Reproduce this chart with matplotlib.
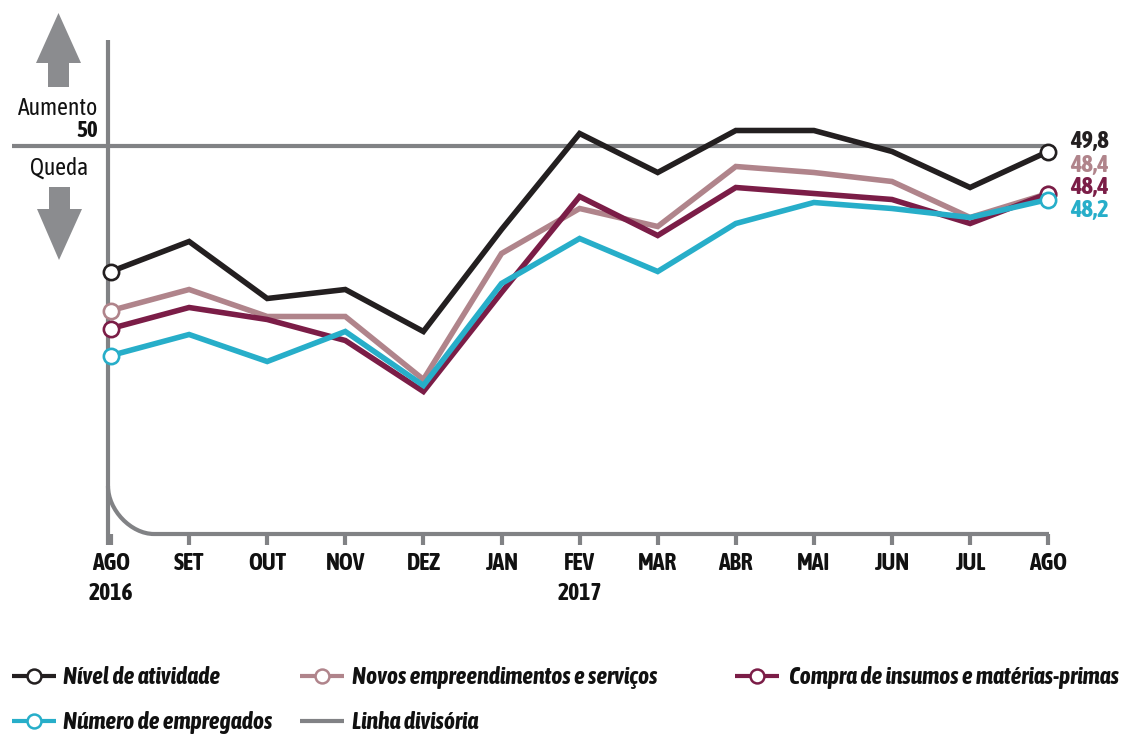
import matplotlib
matplotlib.use("Agg")
import matplotlib.pyplot as plt
from matplotlib.path import Path
from matplotlib.patches import PathPatch, Polygon

plt.rcParams['font.family'] = ['Asap Condensed', 'DejaVu Sans']

# ---------------- data ----------------
months = ['AGO', 'SET', 'OUT', 'NOV', 'DEZ', 'JAN', 'FEV', 'MAR', 'ABR', 'MAI', 'JUN', 'JUL', 'AGO']
year_labels = {0: '2016', 6: '2017'}
nivel = [45.8, 46.8, 44.9, 45.2, 43.8, 47.2, 50.4, 49.1, 50.5, 50.5, 49.8, 48.6, 49.8]
novos = [44.5, 45.2, 44.3, 44.3, 42.2, 46.4, 47.9, 47.3, 49.3, 49.1, 48.8, 47.6, 48.4]
compra = [43.9, 44.6, 44.2, 43.5, 41.8, 45.1, 48.3, 47.0, 48.6, 48.4, 48.2, 47.4, 48.4]
empregados = [43.0, 43.7, 42.8, 43.8, 42.0, 45.4, 46.9, 45.8, 47.4, 48.1, 47.9, 47.6, 48.2]
divisor = 50
last_labels = ['49,8', '48,4', '48,4', '48,2']
series_names = ['Nível de atividade', 'Novos empreendimentos e serviços',
                'Compra de insumos e matérias-primas', 'Número de empregados', 'Linha divisória']

# ---------------- styles ----------------
C_BLACK = '#231f20'
C_PINK = '#b0848b'
C_MAROON = '#7b1d47'
C_CYAN = '#27aec9'
C_GRAY = '#818285'
C_ARROW = '#8b8c8f'
C_TEXT = '#111111'

W, H = 1125, 734
fig = plt.figure(figsize=(W / 100, H / 100), dpi=100)
ax = fig.add_axes([0, 0, 1, 1])
ax.axis('off')

X0, DX, Y50, DY = 111, 78.1, 145.5, 30.0
ax.set_xlim((0 - X0) / DX, (W - X0) / DX)
ax.set_ylim(50 - (H - Y50) / DY, 50 + Y50 / DY)


def px(x, y):
    return ((x - X0) / DX, 50 - (y - Y50) / DY)


idx = list(range(len(months)))

# vertical axis line
ax.plot([px(108, 0)[0]] * 2, [px(0, 40)[1], px(0, 545)[1]], color=C_GRAY, lw=3.0,
        solid_capstyle='butt', zorder=1)
# curved break + baseline
k = 0.5
verts = [px(108, 486), px(108, 486 + k * 48), px(154 - k * 46, 534), px(154, 534), px(1049, 534)]
codes = [Path.MOVETO, Path.CURVE4, Path.CURVE4, Path.CURVE4, Path.LINETO]
ax.add_patch(PathPatch(Path(verts, codes), fill=False, edgecolor=C_GRAY, lw=3.0, zorder=1))
# ticks
for i in idx:
    ax.plot([i, i], [px(0, 534)[1], px(0, 545)[1]], color=C_GRAY, lw=3.0,
            solid_capstyle='butt', zorder=1)
    ax.text(i, px(0, 570)[1], months[i], ha='center', va='baseline',
            fontsize=17, fontweight='bold', color=C_TEXT)
for i, yl in year_labels.items():
    ax.text(i, px(0, 600)[1], yl, ha='center', va='baseline',
            fontsize=17, fontweight='bold', color=C_TEXT)

# divider line at 50
ax.plot([px(12, 0)[0], len(months) - 1], [divisor, divisor], color=C_GRAY, lw=3.0,
        solid_capstyle='butt', zorder=2)

# arrows
up = [px(58.5, 13), px(81, 63), px(69, 63), px(69, 87), px(48, 87), px(48, 63), px(36, 63)]
down = [px(59, 260), px(82, 209), px(70, 209), px(70, 187), px(49, 187), px(49, 209), px(37, 209)]
ax.add_patch(Polygon(up, closed=True, facecolor=C_ARROW, edgecolor='none'))
ax.add_patch(Polygon(down, closed=True, facecolor=C_ARROW, edgecolor='none'))
ax.text(*px(58.5, 115), 'Aumento', ha='center', va='baseline', fontsize=17, color=C_TEXT)
ax.text(*px(98, 137), '50', ha='right', va='baseline', fontsize=16.5, fontweight='bold', color=C_TEXT)
ax.text(*px(59, 175), 'Queda', ha='center', va='baseline', fontsize=17, color=C_TEXT)

# series
series = [(novos, C_PINK, 3), (compra, C_MAROON, 4), (empregados, C_CYAN, 5), (nivel, C_BLACK, 6)]
for vals, col, z in series:
    ax.plot(idx, vals, color=col, lw=4.0, solid_joinstyle='miter', zorder=z,
            marker='o', markevery=[0, len(vals) - 1], markersize=11,
            markerfacecolor='white', markeredgecolor=col, markeredgewidth=1.9)

# end labels
for lab, col, yb in zip(last_labels, [C_BLACK, C_PINK, C_MAROON, C_CYAN], [148, 172, 194, 217]):
    ax.text(*px(1070, yb), lab, ha='left', va='baseline', fontsize=17.5,
            fontweight='bold', color=col)

# legend
leg = [(12, 676, C_BLACK, True, series_names[0], 63),
       (300, 676, C_PINK, True, series_names[1], 352),
       (735, 676, C_MAROON, True, series_names[2], 789),
       (12, 721, C_CYAN, True, series_names[3], 63),
       (300, 721, C_GRAY, False, series_names[4], 352)]
for x0, yy, col, mk, name, tx in leg:
    xa, ya = px(x0, yy)
    xb, _ = px(x0 + 44, yy)
    ax.plot([xa, xb], [ya, ya], color=col, lw=3.0, solid_capstyle='butt', zorder=7)
    if mk:
        xm, _ = px(x0 + 22, yy)
        ax.plot([xm], [ya], marker='o', markersize=10, markerfacecolor='white',
                markeredgecolor=col, markeredgewidth=1.8, zorder=8)
    ax.text(*px(tx, yy + 8), name, ha='left', va='baseline', fontsize=17,
            fontweight='bold', fontstyle='italic', color=C_TEXT)

fig.savefig('out.png', dpi=100)
